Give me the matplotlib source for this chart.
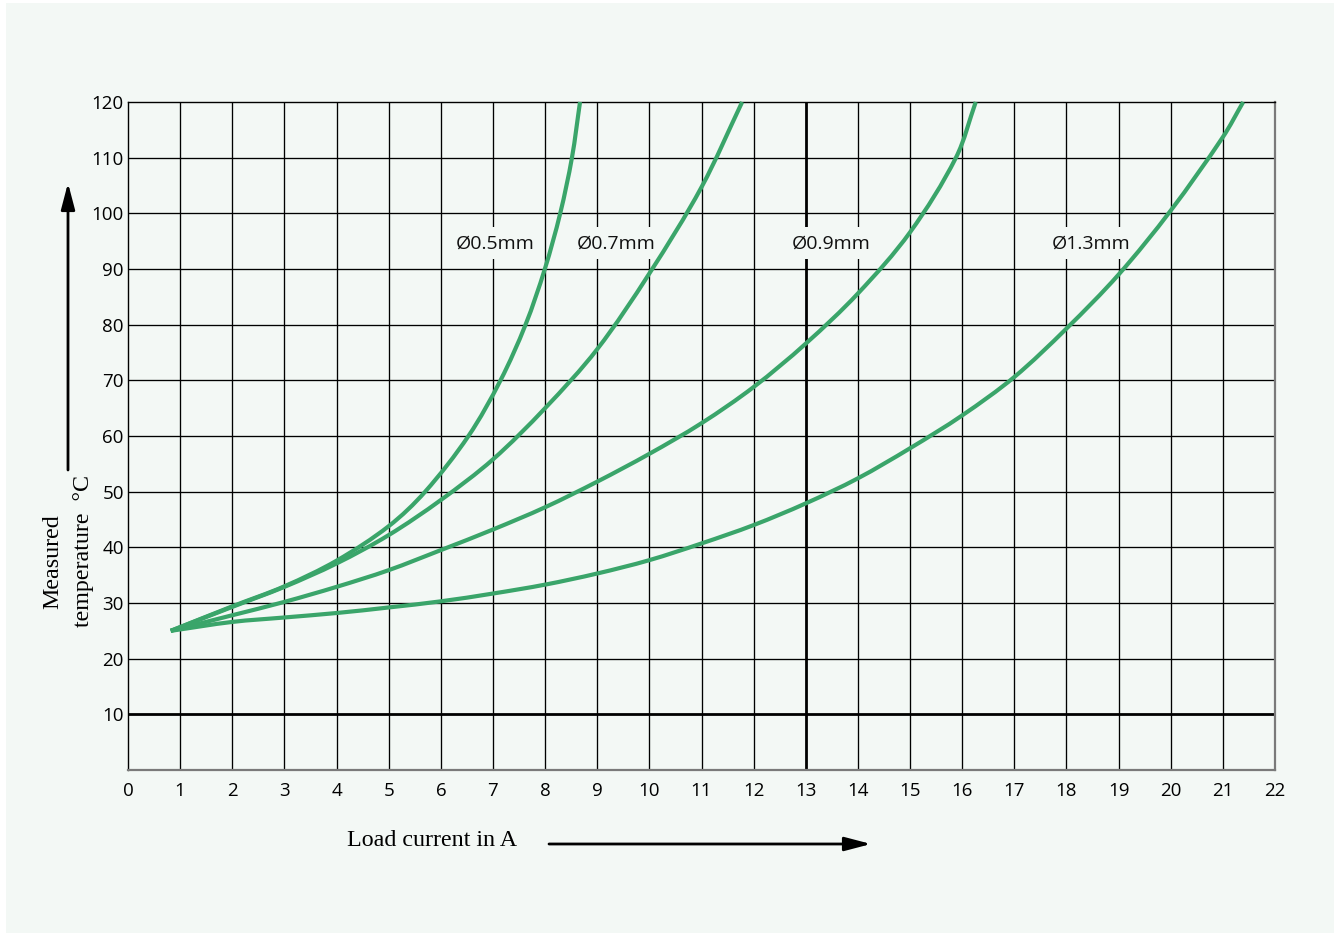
import matplotlib

matplotlib.use("Agg")
import matplotlib.pyplot as plt
import numpy as np
from matplotlib.patches import PathPatch, Rectangle
from matplotlib.path import Path

# Load current (A) vs. measured temperature (°C) for four wire diameters
d05_current = [0.82, 2, 3, 4, 5, 5.70, 6.53, 7.145, 7.625, 7.995, 8.29, 8.515, 8.67]
d05_temp = [25.0, 29.4, 33.0, 37.6, 43.8, 50, 60, 70, 80, 90, 100, 110, 120]

d07_current = [0.82, 2, 3, 4, 5, 6, 7, 8, 9, 10, 11, 11.78]
d07_temp = [25.0, 29.3, 32.9, 37.1, 42.2, 48.5, 55.8, 65.0, 75.6, 89.2, 104.7, 120]

d09_current = [0.82, 2, 3, 4, 5, 6, 7, 8, 9, 10, 11, 12, 13, 14, 15, 15.88, 16.26]
d09_temp = [25.0, 27.8, 30.2, 32.9, 35.9, 39.5, 43.2, 47.2, 51.8, 56.8, 62.3,
            68.8, 76.6, 85.6, 96.6, 110, 120]

d13_current = [0.82, 2, 3, 4, 5, 6, 7, 8, 9, 10, 11, 12, 13, 14, 15, 16, 17, 18,
               19, 20, 21, 21.39]
d13_temp = [25.0, 26.6, 27.4, 28.2, 29.2, 30.3, 31.7, 33.3, 35.3, 37.7, 40.7,
            44.0, 47.9, 52.4, 57.8, 63.7, 70.6, 79.3, 89.0, 100.5, 113.7, 120]

series_labels = ["Ø0.5mm", "Ø0.7mm", "Ø0.9mm", "Ø1.3mm"]
label_x = [7.04, 9.36, 13.48, 18.47]
label_y = [94.6, 94.6, 94.6, 94.6]

x_ticks = list(range(0, 23))
y_ticks = list(range(10, 121, 10))

PANEL = "#f3f8f5"
GREEN = "#3aa56a"
W, H = 1338, 936


def smooth_path(xs, ys, sx=52.14, sy=5.57):
    """Bezier path through the points; tangents are worked out in a
    roughly isotropic (pixel-like) space so the curve does not overshoot."""
    p = np.column_stack([np.asarray(xs) * sx, np.asarray(ys) * sy])
    n = len(p)
    tang = np.zeros_like(p)
    for i in range(n):
        a = p[max(i - 1, 0)]
        b = p[min(i + 1, n - 1)]
        d = b - a
        tang[i] = d / np.hypot(*d)
    verts = [p[0]]
    codes = [Path.MOVETO]
    for i in range(n - 1):
        L = np.hypot(*(p[i + 1] - p[i])) / 3.0
        verts += [p[i] + tang[i] * L, p[i + 1] - tang[i + 1] * L, p[i + 1]]
        codes += [Path.CURVE4] * 3
    verts = np.array(verts) / [sx, sy]
    return Path(verts, codes)


fig = plt.figure(figsize=(13.38, 9.36), dpi=100, facecolor="white")

# light panel behind everything, leaving a thin white margin
fig.patches.append(Rectangle((6 / W, 3 / H), (W - 10) / W, (H - 6) / H,
                             transform=fig.transFigure, facecolor=PANEL,
                             edgecolor="none", zorder=-10))

ax = fig.add_axes([128 / W, (H - 770) / H, (1275 - 128) / W, 668 / H])
ax.set_facecolor(PANEL)
ax.set_xlim(0, 22)
ax.set_ylim(0, 120)

for x in x_ticks[1:-1]:
    ax.axvline(x, color="black", lw=2.0 if x == 13 else 0.95, zorder=1)
for y in y_ticks[:-1]:
    ax.axhline(y, color="black", lw=2.0 if y == 10 else 0.95, zorder=1)

for side in ("top", "left"):
    ax.spines[side].set_color("black")
    ax.spines[side].set_linewidth(1.0)
for side in ("bottom", "right"):
    ax.spines[side].set_color("#7a7a7a")
    ax.spines[side].set_linewidth(1.6)

ax.set_xticks(x_ticks)
ax.set_yticks(y_ticks)
ax.tick_params(axis="both", length=0, labelsize=13.5)
ax.tick_params(axis="x", pad=9)
ax.tick_params(axis="y", pad=3)
for lbl in ax.get_xticklabels() + ax.get_yticklabels():
    lbl.set_fontfamily("Open Sans")

curves = [(d05_current, d05_temp), (d07_current, d07_temp),
          (d09_current, d09_temp), (d13_current, d13_temp)]
for xs, ys in curves:
    ax.add_patch(PathPatch(smooth_path(xs, ys), facecolor="none",
                           edgecolor=GREEN, lw=3.0, capstyle="butt",
                           zorder=4, clip_on=False))

for text, x, y in zip(series_labels, label_x, label_y):
    ax.text(x, y, text, ha="center", va="center", fontsize=14,
            fontfamily="Open Sans", color="#111111", zorder=3,
            bbox=dict(facecolor=PANEL, edgecolor="none", pad=5))

# axis captions and arrows, placed in figure pixels
fig.text(347 / W, (H - 840) / H, "Load current in A", ha="left", va="center",
         fontsize=17.3, fontfamily="Liberation Serif")
fig.text(53 / W, (H - 562) / H, "Measured", rotation=90, ha="center",
         va="center", fontsize=17.3, fontfamily="Liberation Serif")
fig.text(84 / W, (H - 551) / H, "temperature  °C", rotation=90, ha="center",
         va="center", fontsize=17.3, fontfamily="Liberation Serif")

arrow_style = dict(arrowstyle="-|>,head_length=1.6,head_width=0.42",
                   color="black", lw=2.0, shrinkA=0, shrinkB=0)
ax.annotate("", xy=(871, H - 844), xytext=(549, H - 844),
            xycoords="figure pixels", textcoords="figure pixels",
            arrowprops=arrow_style, annotation_clip=False)
ax.annotate("", xy=(68, H - 183), xytext=(68, H - 470),
            xycoords="figure pixels", textcoords="figure pixels",
            arrowprops=arrow_style, annotation_clip=False)

fig.savefig("out.png", dpi=100, facecolor="white")
